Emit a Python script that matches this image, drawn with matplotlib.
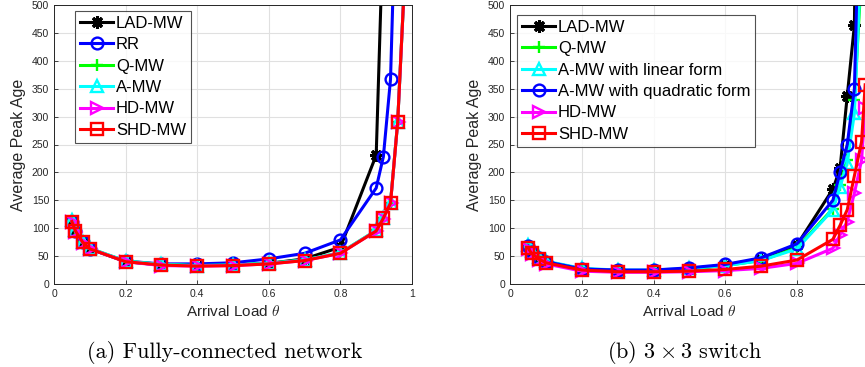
import matplotlib
matplotlib.use("Agg")
import matplotlib.pyplot as plt

plt.rcParams['font.family'] = ['Liberation Sans', 'DejaVu Sans']
plt.rcParams['mathtext.fontset'] = 'cm'

# (a) fully-connected network
x_a = [0.05, 0.06, 0.08, 0.1, 0.2, 0.3, 0.4, 0.5, 0.6, 0.7, 0.8, 0.9, 0.92, 0.94, 0.96, 0.98]
lad_a = [112, 95, 75, 63, 40, 34, 33, 34, 37, 45, 66, 231, 650]
rr_a = [112, 95, 75, 63, 41, 36, 36, 38, 45, 55, 79, 172, 228, 367, 810]
qmw_a = [113, 96, 76, 64, 41, 35, 33, 34, 37, 43, 56, 96, 119, 146, 291, 555]
amw_a = [114, 96, 76, 64, 41, 35, 33, 34, 37, 43, 56, 96, 119, 146, 290, 555]
hd_a = [112, 94, 74, 63, 40, 33, 32, 33, 36, 42, 55, 95, 117, 145, 290, 555]
shd_a = [112, 95, 75, 63, 40, 34, 32, 33, 36, 42, 55, 95, 118, 145, 290, 555]

# (b) 3x3 switch
x_b = [0.05, 0.06, 0.08, 0.1, 0.2, 0.3, 0.4, 0.5, 0.6, 0.7, 0.8, 0.9, 0.92, 0.94, 0.96, 0.98, 0.99]
lad_b = [68, 58, 47, 40, 27, 24, 24, 27, 34, 45, 70, 170, 207, 337, 464, 1500]
qmw_b = [68, 58, 47, 40, 27, 24, 24, 27, 33, 42, 65, 135, 178, 222, 330, 560]
amw_lin_b = [70, 60, 48, 41, 28, 25, 25, 28, 33, 42, 63, 133, 174, 217, 306, 600]
amw_quad_b = [68, 58, 47, 40, 27, 25, 25, 29, 35, 47, 72, 150, 200, 250, 350, 850]
hd_b = [62, 53, 43, 36, 23, 21, 21, 22, 24, 28, 37, 64, 88, 112, 163, 222, 315]
shd_b = [65, 55, 45, 38, 25, 22, 22, 23, 26, 32, 43, 80, 105, 133, 194, 255, 357]

ASTERISK = (8, 2, 0)

series_a = [
    ("LAD-MW", lad_a, 'k', ASTERISK),
    ("RR", rr_a, '#0000ff', 'o'),
    ("Q-MW", qmw_a, '#00ff00', '+'),
    ("A-MW", amw_a, '#00ffff', '^'),
    ("HD-MW", hd_a, '#ff00ff', '>'),
    ("SHD-MW", shd_a, '#ff0000', 's'),
]
series_b = [
    ("LAD-MW", lad_b, 'k', ASTERISK),
    ("Q-MW", qmw_b, '#00ff00', '+'),
    ("A-MW with linear form", amw_lin_b, '#00ffff', '^'),
    ("A-MW with quadratic form", amw_quad_b, '#0000ff', 'o'),
    ("HD-MW", hd_b, '#ff00ff', '>'),
    ("SHD-MW", shd_b, '#ff0000', 's'),
]

W, H = 865, 367
fig = plt.figure(figsize=(W / 100, H / 100), dpi=100)


def draw(ax, xs, series, legend_anchor, ticks):
    for name, ys, col, mk in series:
        ms = 8.5 if mk in ('o', 's') else 9
        ax.plot(xs[:len(ys)], ys, color=col, lw=2.2, marker=mk, ms=ms,
                mfc='none', mec=col, mew=1.7 if mk != ASTERISK else 2.2,
                label=name)
    ax.set_xlim(0, 1)
    ax.set_ylim(0, 500)
    ax.set_yticks(range(0, 501, 50))
    ax.set_xticks(ticks)
    ax.set_xticklabels(['%g' % t for t in ticks])
    ax.grid(True, color='#e0e0e0', lw=0.8)
    ax.set_axisbelow(True)
    ax.tick_params(direction='in', labelsize=7.5, colors='#262626', length=3, width=0.6,
                   top=False, right=False)
    for sp in ax.spines.values():
        sp.set_color('#262626')
        sp.set_linewidth(0.7)
    ax.set_xlabel(r'Arrival Load $\theta$', fontsize=11, color='#262626', labelpad=4)
    ax.set_ylabel('Average Peak Age', fontsize=11.5, color='#262626', labelpad=4)
    leg = ax.legend(loc='upper left', bbox_to_anchor=legend_anchor, fontsize=12,
                    frameon=True, fancybox=False, edgecolor='#262626', handlelength=2.0,
                    handletextpad=0.15, borderpad=0.3, labelspacing=0.38, borderaxespad=0)
    leg.get_frame().set_linewidth(0.8)


ax1 = fig.add_axes([54 / W, 1 - 284 / H, 358 / W, 279 / H])
draw(ax1, x_a, series_a, ((75 - 54) / 358, (284 - 11) / 279),
     [0, 0.2, 0.4, 0.6, 0.8, 1])

ax2 = fig.add_axes([510 / W, 1 - 284 / H, 358.75 / W, 279 / H])
draw(ax2, x_b, series_b, ((517 - 510) / 358.75, (284 - 15) / 279),
     [0, 0.2, 0.4, 0.6, 0.8])

fig.text(225 / W, 1 - 353 / H, '(a) Fully-connected network', family='cmr10',
         fontsize=16, ha='center', va='center')
fig.text(684 / W, 1 - 353 / H, r'(b) $3\times3$ switch', family='cmr10',
         fontsize=16, ha='center', va='center')

fig.savefig('out.png', dpi=100)
